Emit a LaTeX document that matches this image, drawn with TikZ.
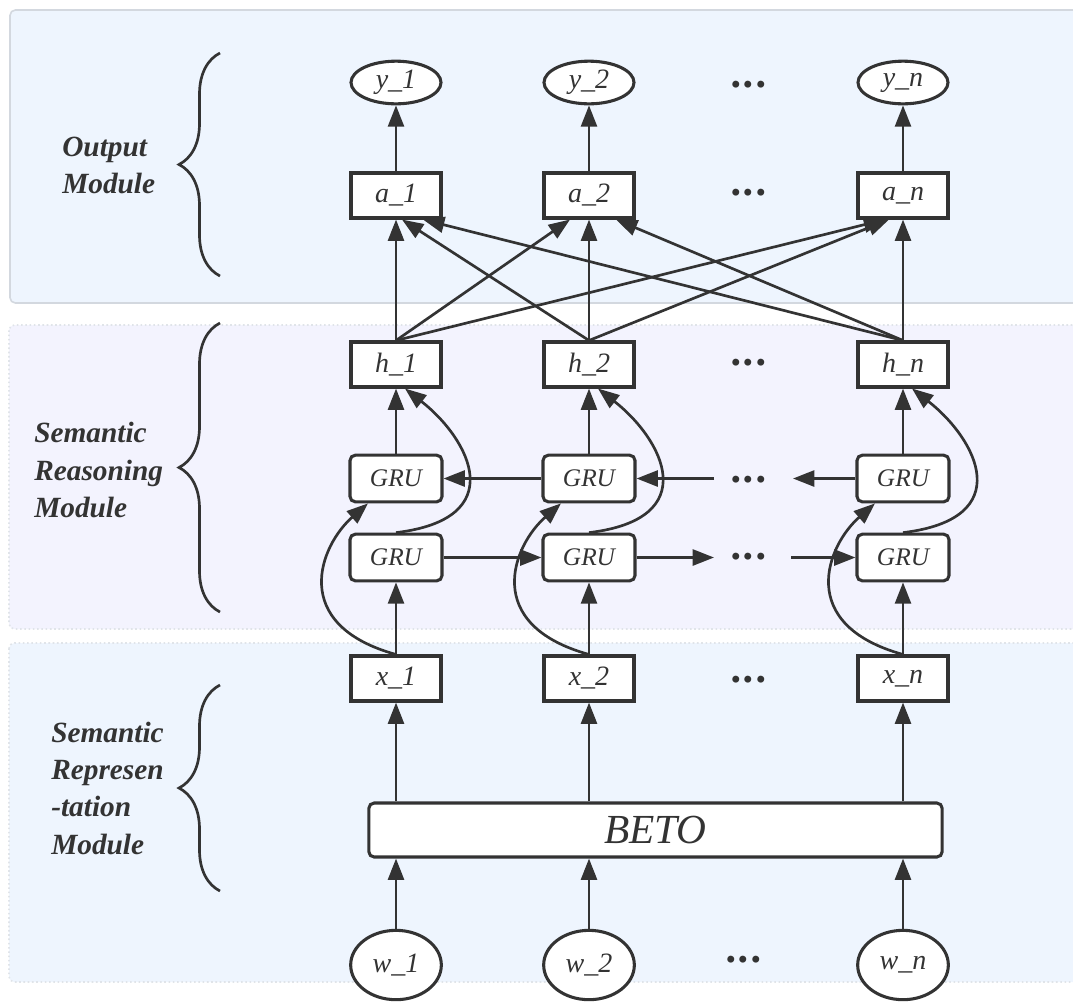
\documentclass[tikz,border=0pt]{standalone}
\usepackage{fontspec}
\setmainfont{Liberation Serif}
\usetikzlibrary{arrows.meta,calc,decorations.pathreplacing,shapes.geometric}
\definecolor{ink}{HTML}{333333}
\definecolor{outbg}{HTML}{EEF5FE}
\definecolor{reabg}{HTML}{F3F3FE}
\definecolor{repbg}{HTML}{EEF5FE}
\definecolor{rim}{HTML}{D3D8DF}
\tikzset{
  vbox/.style={draw=ink, line width=2.3pt, fill=white, minimum width=67.5pt, minimum height=33.75pt,
    inner sep=0pt, text=ink, font=\fontsize{21}{21}\selectfont\itshape},
  gru/.style={vbox, rounded corners=4pt, minimum width=69pt, minimum height=35pt,
    font=\fontsize{19}{19}\selectfont\itshape},
  oval/.style={ellipse, draw=ink, line width=2.3pt, fill=white, minimum width=67.5pt, minimum height=32pt,
    inner sep=0pt, text=ink, font=\fontsize{21}{21}\selectfont\itshape},
  woval/.style={oval, minimum width=68pt, minimum height=52pt},
  betobox/.style={draw=ink, line width=2.3pt, fill=white, rounded corners=4pt, minimum width=430pt,
    minimum height=40.5pt, text=ink, font=\fontsize{31}{31}\selectfont\itshape},
  arr/.style={draw=ink, line width=2pt, -{Triangle[length=16pt,width=12pt]}},
  dots/.style={text=ink, inner sep=0pt, font=\fontsize{32}{32}\selectfont\bfseries\itshape},
  modlabel/.style={text=ink, align=left, anchor=west, inner sep=0pt,
    font=\fontsize{22}{28}\selectfont\bfseries\itshape},
  curly/.style={draw=ink, line width=2pt, decorate, decoration={brace, amplitude=30.75pt}},
  panel/.style={rounded corners=4pt, line width=1.2pt}
}
\begin{document}
\begin{tikzpicture}[x=0.75pt, y=-0.75pt]
  \useasboundingbox (0,0) rectangle (1073,1001);
  % module panels
  \draw[panel, fill=outbg, draw=rim] (10,10) rectangle (1090,303);
  \draw[panel, fill=reabg, draw=rim!70, dotted] (9,325) rectangle (1090,629);
  \draw[panel, fill=repbg, draw=rim!70, dotted] (9,643) rectangle (1090,982);

  \node[modlabel] (lout) at (62,165.5) {Output\\Module};
  \node[modlabel] (lrea) at (34,470) {Semantic\\Reasoning\\Module};
  \node[modlabel] (lrep) at (51,788) {Semantic\\Represen\\-tation\\Module};
  \draw[curly] (220,276) -- (220,53);
  \draw[curly] (220,612) -- (220,323);
  \draw[curly] (220,891) -- (220,685);

  % one column per token
  \foreach \i/\c in {1/396, 2/589, n/903} {
    \node[oval] (y\i) at (\c,82.5) {y\_\i};
    \node[vbox] (a\i) at (\c,195.5) {a\_\i};
    \node[vbox] (h\i) at (\c,364.5) {h\_\i};
    \node[gru] (gt\i) at (\c,478.5) {GRU};
    \node[gru] (gb\i) at (\c,557.5) {GRU};
    \node[vbox] (x\i) at (\c,678.5) {x\_\i};
    \node[woval] (w\i) at (\c,965) {w\_\i};
  }
  \node[betobox] (beto) at (655.5,830) {BETO};

  \foreach \r/\yy in {y/85, a/193, h/363, gt/480, gb/557, x/680}
    \node[dots] (d\r) at (750,\yy) {.\kern1.5pt.\kern1.5pt.};
  \node[dots] (dw) at (745,960) {.\kern1.5pt.\kern1.5pt.};

  \foreach \i in {1,2,n} {
    \draw[arr] (a\i) -- (y\i);
    \draw[arr] (gt\i) -- (h\i);
    \draw[arr] (x\i) -- (gb\i);
    \draw[arr] (beto.north -| x\i) -- (x\i);
    \draw[arr] (w\i) -- (w\i |- beto.south);
    \draw[arr] (x\i.north) .. controls +(-108,-30) and +(-48,42) .. ($(gt\i.south)+(-28,0)$);
    \draw[arr] (gb\i.north) .. controls +(115,-14) and +(65,51) .. ($(h\i.south)+(9,0)$);
  }

  % attention links
  \draw[arr] (h1.north) -- (a1);
  \draw[arr] (h1.north) -- ($(a2.south)+(-19,0)$);
  \draw[arr] (h1.north) -- ($(an.south)+(-18,0)$);
  \draw[arr] (h2.north) -- ($(a1.south)+(6,0)$);
  \draw[arr] (h2.north) -- (a2);
  \draw[arr] (h2.north) -- ($(an.south)+(-14,0)$);
  \draw[arr] (hn.north) -- ($(a1.south)+(27,0)$);
  \draw[arr] (hn.north) -- ($(a2.south)+(27,0)$);
  \draw[arr] (hn.north) -- (an);

  % recurrent links
  \coordinate (tl) at (714,478.5);
  \coordinate (tr) at (793,478.5);
  \coordinate (bl) at (714,557.5);
  \coordinate (br) at (791,557.5);
  \draw[arr] (gt2) -- (gt1);
  \draw[arr] (tl) -- (gt2);
  \draw[arr] (gtn) -- (tr);
  \draw[arr] (gb1) -- (gb2);
  \draw[arr] (gb2) -- (bl);
  \draw[arr] (br) -- (gbn);
\end{tikzpicture}
\end{document}
